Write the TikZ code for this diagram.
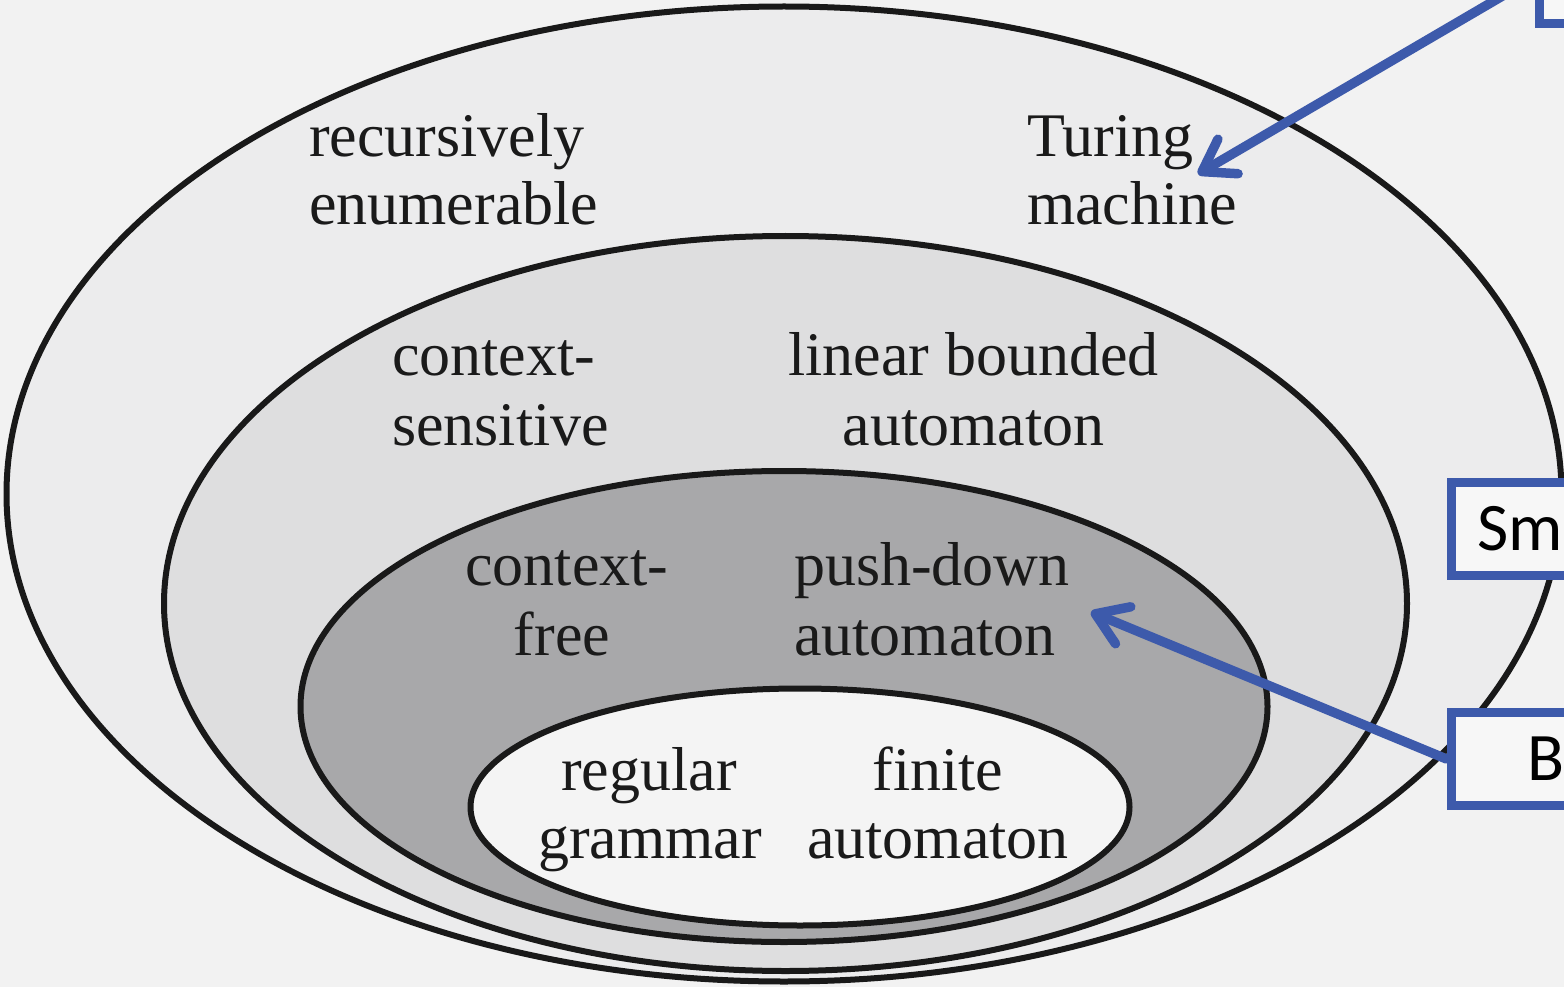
\documentclass[tikz,border=0pt]{standalone}
\usepackage{fontspec}
\setmainfont{Liberation Serif}
\newfontfamily\boxfont{Carlito}
\usetikzlibrary{arrows.meta}
\definecolor{bgc}{HTML}{F2F2F2}
\definecolor{ringA}{HTML}{ECECED}
\definecolor{ringB}{HTML}{DEDEDF}
\definecolor{ringC}{HTML}{A8A8AA}
\definecolor{ringD}{HTML}{F4F4F4}
\definecolor{txt}{HTML}{1A1A1A}
\definecolor{callblue}{HTML}{3D5AAB}
\definecolor{boxfill}{HTML}{F7F7F7}
\begin{document}
\begin{tikzpicture}[x=1pt,y=-1pt,
  ring/.style={draw=black!90, line width=6pt},
  lbl/.style={inner sep=0pt, text=txt, font=\fontsize{62}{70}\selectfont},
  callbox/.style={draw=callblue, line width=9.5pt, fill=boxfill, rectangle,
    minimum height=93pt, inner ysep=0pt, font=\boxfont\fontsize{68}{80}\selectfont, text=black, align=left},
  callarrow/.style={draw=callblue, line width=9.5pt, line cap=round,
    -{Straight Barb[length=30pt,width=40pt,line cap=round,line join=round]}}
]
\path[use as bounding box] (0,0) rectangle (1564,987);
\clip (0,0) rectangle (1564,987);
\fill[bgc] (0,0) rectangle (1564,987);

% nested regions
\draw[ring, fill=ringA] (784,494) ellipse [x radius=777.5pt, y radius=487.5pt];
\draw[ring, fill=ringB] (785.5,603.5) ellipse [x radius=621.5pt, y radius=367.5pt];
\draw[ring, fill=ringC] (784,706.5) ellipse [x radius=483.5pt, y radius=235.5pt];
\draw[ring, fill=ringD] (800,807) ellipse [x radius=329.5pt, y radius=118.5pt];

% labels
\node[lbl, anchor=base west] (re1) at (309,157) {recursively};
\node[lbl, anchor=base west] (re2) at (309,225) {enumerable};
\node[lbl, anchor=base west] (tm1) at (1027,157) {Turing};
\node[lbl, anchor=base west] (tm2) at (1027,225) {machine};

\node[lbl, anchor=base west] (cs1) at (392,375) {context-};
\node[lbl, anchor=base west] (cs2) at (392,445) {sensitive};
\node[lbl, anchor=base] (lb1) at (973.5,375) {linear bounded};
\node[lbl, anchor=base] (lb2) at (973.5,445) {automaton};

\node[lbl, anchor=base] (cf1) at (567,585) {context-};
\node[lbl, anchor=base] (cf2) at (562,655) {free};
\node[lbl, anchor=base west] (pd1) at (794,585) {push-down};
\node[lbl, anchor=base west] (pd2) at (794,655) {automaton};

\node[lbl, anchor=base] (rg1) at (649,790) {regular};
\node[lbl, anchor=base] (rg2) at (650,858) {grammar};
\node[lbl, anchor=base] (fa1) at (938,790) {finite};
\node[lbl, anchor=base] (fa2) at (938,858) {automaton};

% callout boxes (cut off by the page edge)
\node[callbox, anchor=south west, minimum width=220pt] (topbox) at (1534.5,28.5) {};
\node[callbox, anchor=west, inner xsep=26pt, text width=220pt] (smbox) at (1446.5,529) {Sm};
\node[callbox, anchor=west, inner xsep=76pt, text width=170pt] (bbox) at (1446.5,759) {B};

% arrows
\coordinate (tipT) at (1198,174);
\coordinate (tipP) at (1091,612);
\draw[callarrow] (topbox.west) -- (tipT);
\draw[callarrow] (bbox.west) -- (tipP);
\end{tikzpicture}
\end{document}
